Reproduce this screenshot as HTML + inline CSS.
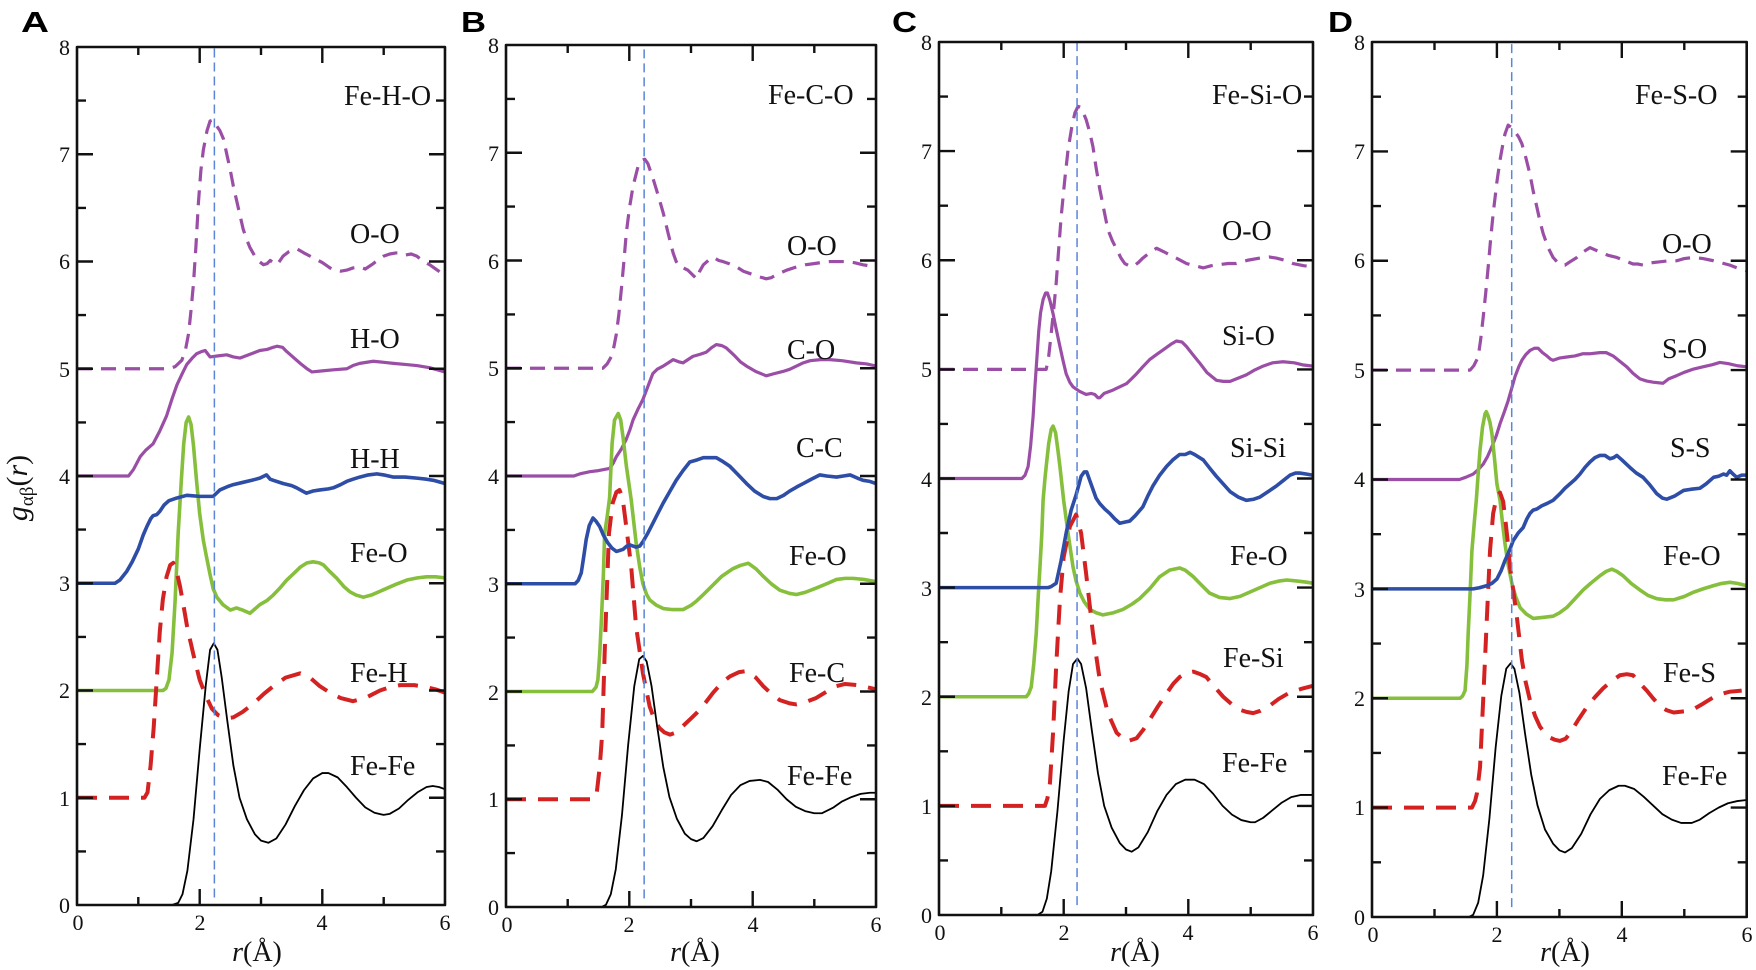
<!DOCTYPE html>
<html><head><meta charset="utf-8"><style>
body{margin:0;background:#fff}
svg{display:block}
.c{fill:none;vector-effect:non-scaling-stroke;stroke-linejoin:round;stroke-linecap:butt}
.k{stroke:#000;stroke-width:1.8}
.r{stroke:#d42222;stroke-width:4;stroke-dasharray:20 12}
.g{stroke:#86bf3c;stroke-width:3.6}
.b{stroke:#2d4da6;stroke-width:3.6}
.p{stroke:#9b4ea6;stroke-width:3.2}
.pd{stroke:#9b4ea6;stroke-width:3.2;stroke-dasharray:15 9}
.v{stroke:#5a85d8;stroke-width:1.5;stroke-dasharray:9 5}
.ax{stroke:#111;stroke-width:2.6}
.tk{fill:none;stroke:#111;stroke-width:2.4}
text{font-family:"Liberation Serif",serif;fill:#111}
.tl{font-size:22px}
.lb{font-size:28px}
.pl{font-family:"Liberation Sans",sans-serif;font-weight:bold;font-size:29px;fill:#000}
</style></head><body>
<svg width="1756" height="970" viewBox="0 0 1756 970" xmlns="http://www.w3.org/2000/svg">

<!-- ================= PANEL A ================= -->
<g transform="translate(77,905) scale(61.33,-107.25)">
<polyline class="c pd" points="0,5 1.5,5 1.6,5.02 1.71,5.08 1.77,5.18 1.82,5.33 1.86,5.55 1.9,5.8 1.94,6.15 1.98,6.55 2.02,6.85 2.06,7.04 2.12,7.22 2.17,7.31 2.22,7.32 2.27,7.27 2.33,7.22 2.39,7.14 2.45,6.98 2.5,6.85 2.55,6.7 2.63,6.5 2.71,6.3 2.77,6.2 2.82,6.13 2.9,6.05 2.97,6 3.04,5.97 3.1,5.98 3.15,6.01 3.2,5.99 3.26,5.97 3.3,6 3.36,6.05 3.45,6.09 3.58,6.12 3.7,6.08 3.8,6.05 3.9,6.02 4,5.99 4.1,5.95 4.18,5.92 4.3,5.91 4.4,5.92 4.5,5.94 4.61,5.95 4.7,5.93 4.83,5.98 4.92,6.02 5,6.05 5.1,6.07 5.2,6.08 5.27,6.08 5.35,6.06 5.45,6.07 5.54,6.05 5.65,6 5.75,5.97 5.85,5.93 6,5.87"/>
<polyline class="c p" points="0,4 0.84,4 0.92,4.06 1.03,4.18 1.12,4.24 1.24,4.3 1.35,4.42 1.46,4.56 1.55,4.72 1.63,4.85 1.72,4.96 1.79,5.04 1.88,5.1 1.95,5.14 2.03,5.16 2.09,5.17 2.13,5.14 2.17,5.11 2.3,5.12 2.44,5.13 2.55,5.11 2.66,5.1 2.8,5.13 2.98,5.17 3.1,5.18 3.2,5.2 3.26,5.21 3.35,5.2 3.42,5.16 3.52,5.11 3.64,5.05 3.75,5 3.83,4.97 4,4.98 4.18,4.99 4.4,5 4.5,5.03 4.61,5.05 4.83,5.07 5,5.06 5.16,5.05 5.35,5.04 5.54,5.03 5.75,5.01 6,4.97"/>
<polyline class="c g" points="0,2 1.4,2 1.45,2.02 1.5,2.1 1.55,2.35 1.6,2.84 1.65,3.47 1.7,3.95 1.74,4.3 1.78,4.5 1.82,4.55 1.86,4.48 1.9,4.28 1.95,3.95 2,3.65 2.06,3.4 2.11,3.25 2.17,3.08 2.22,2.95 2.28,2.87 2.38,2.8 2.5,2.75 2.6,2.77 2.7,2.75 2.82,2.72 2.9,2.76 2.98,2.8 3.1,2.84 3.2,2.89 3.3,2.95 3.42,3.03 3.55,3.1 3.64,3.15 3.75,3.19 3.85,3.2 3.95,3.19 4.02,3.17 4.12,3.11 4.23,3.05 4.35,2.97 4.45,2.92 4.55,2.89 4.67,2.87 4.8,2.89 5,2.94 5.2,2.99 5.38,3.03 5.55,3.05 5.7,3.06 5.85,3.06 6,3.05"/>
<polyline class="c r" points="0,1 1.1,1 1.15,1.05 1.2,1.3 1.25,1.65 1.3,2.1 1.35,2.55 1.4,2.85 1.46,3.06 1.52,3.17 1.57,3.19 1.62,3.12 1.68,2.97 1.74,2.78 1.8,2.58 1.9,2.33 2,2.1 2.1,1.95 2.2,1.83 2.3,1.77 2.44,1.74 2.55,1.75 2.7,1.8 2.88,1.88 3.05,1.97 3.2,2.04 3.4,2.12 3.64,2.16 3.8,2.12 3.96,2.04 4.15,1.97 4.3,1.93 4.5,1.9 4.7,1.93 4.94,2 5.1,2.03 5.27,2.05 5.5,2.05 5.7,2.03 5.85,2.01 6,1.98"/>
<polyline class="c b" points="0,3 0.62,3 0.7,3.03 0.81,3.11 0.9,3.2 1,3.32 1.08,3.45 1.14,3.53 1.2,3.6 1.24,3.63 1.3,3.64 1.35,3.67 1.42,3.73 1.5,3.77 1.6,3.79 1.79,3.82 2,3.81 2.22,3.81 2.33,3.87 2.45,3.9 2.55,3.92 2.7,3.94 2.85,3.96 2.98,3.98 3.09,4.01 3.15,3.97 3.2,3.96 3.36,3.93 3.5,3.91 3.58,3.89 3.74,3.84 3.85,3.86 3.96,3.87 4.1,3.88 4.18,3.89 4.3,3.92 4.4,3.95 4.5,3.97 4.61,3.99 4.75,4.01 4.89,4.02 5,4.01 5.16,3.99 5.35,3.99 5.54,3.98 5.7,3.97 5.81,3.96 6,3.93"/>
<polyline class="c k" points="1.55,0 1.65,0.02 1.72,0.1 1.8,0.32 1.9,0.8 2,1.45 2.1,2.05 2.17,2.38 2.23,2.44 2.29,2.38 2.36,2.12 2.45,1.72 2.55,1.3 2.65,1 2.77,0.8 2.9,0.66 3,0.6 3.12,0.58 3.25,0.62 3.4,0.75 3.55,0.92 3.7,1.07 3.85,1.18 4,1.23 4.1,1.23 4.25,1.19 4.4,1.1 4.55,1 4.7,0.91 4.85,0.86 5,0.84 5.1,0.85 5.25,0.9 5.4,0.98 5.55,1.05 5.7,1.1 5.8,1.11 5.9,1.1 6,1.08"/>
<line class="c v" x1="2.24" y1="0.07" x2="2.24" y2="8"/>
<rect class="c ax" x="0" y="0" width="6" height="8"/>
</g>
<path class="tk" transform="translate(77,905)" d="M61.3 0v-8M122.7 0v-16M184 0v-8M245.3 0v-16M306.7 0v-8M61.3 -858v8M122.7 -858v16M184 -858v8M245.3 -858v16M306.7 -858v8M0 -53.6h9M0 -160.9h9M0 -268.1h9M0 -375.4h9M0 -482.6h9M0 -589.9h9M0 -697.1h9M0 -804.4h9M0 -107.25h16M0 -214.5h16M0 -321.75h16M0 -429h16M0 -536.25h16M0 -643.5h16M0 -750.75h16M368 -53.6h-9M368 -160.9h-9M368 -268.1h-9M368 -375.4h-9M368 -482.6h-9M368 -589.9h-9M368 -697.1h-9M368 -804.4h-9M368 -107.25h-16M368 -214.5h-16M368 -321.75h-16M368 -429h-16M368 -536.25h-16M368 -643.5h-16M368 -750.75h-16"/>
<g class="tl" text-anchor="end">
<text x="70" y="913">0</text><text x="70" y="806">1</text><text x="70" y="698">2</text><text x="70" y="591">3</text><text x="70" y="484">4</text><text x="70" y="377">5</text><text x="70" y="269">6</text><text x="70" y="162">7</text><text x="70" y="55">8</text>
</g>
<g class="tl" text-anchor="middle">
<text x="78" y="930">0</text><text x="200" y="930">2</text><text x="322" y="930">4</text><text x="445" y="930">6</text>
</g>
<g class="lb">
<text x="344" y="105">Fe-H-O</text><text x="350" y="243">O-O</text><text x="350" y="348">H-O</text><text x="350" y="468">H-H</text><text x="350" y="562">Fe-O</text><text x="350" y="682">Fe-H</text><text x="350" y="775">Fe-Fe</text>
</g>
<text class="lb" x="257" y="961" text-anchor="middle"><tspan font-style="italic">r</tspan>(Å)</text>
<text class="pl" x="21" y="32" textLength="28" lengthAdjust="spacingAndGlyphs">A</text>
<text transform="translate(27,488) rotate(-90)" text-anchor="middle" font-size="30"><tspan font-style="italic">g</tspan><tspan font-size="19" dy="6">αβ</tspan><tspan dy="-6">(</tspan><tspan font-style="italic">r</tspan>)</text>

<!-- ================= PANEL B ================= -->
<g transform="translate(506,907) scale(61.67,-107.75)">
<polyline class="c pd" points="0,5 1.57,5 1.64,5.04 1.71,5.11 1.75,5.2 1.79,5.32 1.83,5.5 1.87,5.73 1.91,5.98 1.95,6.25 2,6.48 2.06,6.69 2.14,6.87 2.2,6.93 2.25,6.94 2.3,6.9 2.39,6.75 2.47,6.6 2.55,6.44 2.63,6.25 2.71,6.07 2.76,5.99 2.82,5.94 2.88,5.93 2.95,5.91 3.02,5.87 3.09,5.83 3.14,5.9 3.2,5.96 3.28,6 3.36,6.03 3.45,6 3.52,5.99 3.62,5.97 3.74,5.94 3.85,5.9 3.95,5.88 4.1,5.85 4.22,5.83 4.3,5.84 4.39,5.87 4.55,5.91 4.71,5.94 4.85,5.96 4.98,5.97 5.1,5.98 5.25,5.99 5.4,5.99 5.52,5.99 5.65,5.98 5.79,5.96 5.9,5.95 6,5.94"/>
<polyline class="c p" points="0,4 1.1,4 1.2,4.02 1.36,4.04 1.5,4.05 1.68,4.07 1.74,4.12 1.79,4.18 1.87,4.25 1.95,4.34 2.01,4.43 2.06,4.52 2.14,4.62 2.22,4.71 2.3,4.83 2.38,4.95 2.45,4.99 2.55,5.02 2.63,5.05 2.71,5.08 2.8,5.06 2.87,5.05 2.95,5.08 3.03,5.11 3.15,5.13 3.25,5.15 3.33,5.19 3.41,5.22 3.5,5.21 3.57,5.19 3.7,5.12 3.8,5.06 3.9,5.02 4.05,4.97 4.22,4.93 4.35,4.95 4.49,4.97 4.6,4.99 4.71,5.02 4.82,5.05 4.93,5.07 5.1,5.08 5.25,5.08 5.45,5.07 5.68,5.05 5.85,5.04 6,5.02"/>
<polyline class="c g" points="0,2 1.4,2 1.46,2.04 1.49,2.11 1.52,2.35 1.55,2.7 1.58,3.1 1.6,3.47 1.64,3.62 1.68,3.8 1.72,4.3 1.76,4.52 1.82,4.58 1.86,4.52 1.9,4.35 1.95,4.1 2,3.9 2.03,3.78 2.07,3.58 2.11,3.38 2.17,3.15 2.22,3 2.28,2.9 2.33,2.85 2.44,2.8 2.55,2.77 2.7,2.76 2.87,2.76 3,2.8 3.09,2.84 3.2,2.9 3.36,2.99 3.5,3.07 3.68,3.14 3.8,3.17 3.93,3.19 4.05,3.14 4.17,3.07 4.3,3 4.44,2.94 4.6,2.91 4.71,2.9 4.85,2.92 5.03,2.96 5.2,3 5.36,3.04 5.5,3.05 5.63,3.05 5.8,3.04 6,3.02"/>
<polyline class="c r" points="0,1 1.42,1 1.47,1.05 1.52,1.3 1.56,1.61 1.61,2.54 1.67,3.47 1.73,3.75 1.79,3.85 1.84,3.87 1.89,3.8 1.95,3.53 2.03,3.16 2.11,2.6 2.22,2.17 2.33,1.86 2.42,1.72 2.49,1.66 2.57,1.62 2.66,1.6 2.76,1.62 2.87,1.68 3,1.75 3.09,1.8 3.2,1.87 3.36,1.99 3.5,2.08 3.63,2.14 3.78,2.18 3.9,2.19 4.05,2.13 4.17,2.05 4.3,1.98 4.44,1.92 4.6,1.89 4.71,1.88 4.85,1.9 5.03,1.94 5.2,2 5.36,2.05 5.5,2.07 5.68,2.06 5.85,2.04 6,2.02"/>
<polyline class="c b" points="0,3 1.12,3 1.17,3.03 1.22,3.1 1.26,3.25 1.3,3.41 1.35,3.54 1.41,3.61 1.46,3.58 1.52,3.53 1.58,3.45 1.65,3.38 1.72,3.33 1.79,3.3 1.85,3.31 1.9,3.32 1.96,3.35 2.01,3.36 2.06,3.35 2.11,3.34 2.17,3.35 2.22,3.39 2.3,3.47 2.38,3.56 2.46,3.65 2.55,3.75 2.65,3.85 2.76,3.96 2.87,4.05 2.98,4.13 3.1,4.15 3.2,4.17 3.3,4.17 3.41,4.17 3.5,4.14 3.63,4.09 3.75,4.02 3.9,3.93 4.03,3.86 4.17,3.81 4.28,3.79 4.39,3.79 4.5,3.82 4.6,3.86 4.72,3.9 4.82,3.93 4.95,3.97 5.09,4.01 5.2,4 5.36,3.99 5.47,4 5.58,4.01 5.7,3.98 5.79,3.96 5.9,3.95 6,3.93"/>
<polyline class="c k" points="1.55,0 1.62,0.02 1.7,0.12 1.78,0.35 1.88,0.85 1.98,1.5 2.08,2.05 2.16,2.3 2.22,2.33 2.28,2.28 2.36,2.05 2.45,1.68 2.55,1.3 2.65,1.02 2.77,0.82 2.9,0.68 3,0.63 3.09,0.61 3.2,0.64 3.35,0.75 3.5,0.9 3.65,1.04 3.8,1.13 3.95,1.17 4.12,1.18 4.25,1.16 4.4,1.09 4.55,1 4.7,0.93 4.85,0.89 5,0.87 5.12,0.87 5.3,0.92 5.45,0.98 5.6,1.02 5.75,1.05 5.9,1.06 6,1.06"/>
<line class="c v" x1="2.24" y1="0.08" x2="2.24" y2="8"/>
<rect class="c ax" x="0" y="0" width="6" height="8"/>
</g>
<path class="tk" transform="translate(506,907)" d="M61.7 0v-8M123.3 0v-16M185 0v-8M246.7 0v-16M308.3 0v-8M61.7 -862v8M123.3 -862v16M185 -862v8M246.7 -862v16M308.3 -862v8M0 -53.9h9M0 -161.6h9M0 -269.4h9M0 -377.1h9M0 -484.9h9M0 -592.6h9M0 -700.4h9M0 -808.1h9M0 -107.75h16M0 -215.5h16M0 -323.25h16M0 -431h16M0 -538.75h16M0 -646.5h16M0 -754.25h16M370 -53.9h-9M370 -161.6h-9M370 -269.4h-9M370 -377.1h-9M370 -484.9h-9M370 -592.6h-9M370 -700.4h-9M370 -808.1h-9M370 -107.75h-16M370 -215.5h-16M370 -323.25h-16M370 -431h-16M370 -538.75h-16M370 -646.5h-16M370 -754.25h-16"/>
<g class="tl" text-anchor="end">
<text x="499" y="915">0</text><text x="499" y="807">1</text><text x="499" y="700">2</text><text x="499" y="592">3</text><text x="499" y="484">4</text><text x="499" y="376">5</text><text x="499" y="269">6</text><text x="499" y="161">7</text><text x="499" y="53">8</text>
</g>
<g class="tl" text-anchor="middle">
<text x="507" y="932">0</text><text x="629" y="932">2</text><text x="753" y="932">4</text><text x="876" y="932">6</text>
</g>
<g class="lb">
<text x="768" y="104">Fe-C-O</text><text x="787" y="255">O-O</text><text x="787" y="359">C-O</text><text x="796" y="457">C-C</text><text x="789" y="565">Fe-O</text><text x="789" y="682">Fe-C</text><text x="787" y="785">Fe-Fe</text>
</g>
<text class="lb" x="695" y="961" text-anchor="middle"><tspan font-style="italic">r</tspan>(Å)</text>
<text class="pl" x="461" y="32" textLength="25" lengthAdjust="spacingAndGlyphs">B</text>

<!-- ================= PANEL C ================= -->
<g transform="translate(939,915) scale(62.33,-109.125)">
<polyline class="c pd" points="0,5 1.72,5 1.76,5.12 1.8,5.33 1.84,5.55 1.88,5.79 1.92,6.1 1.96,6.4 2.02,6.75 2.07,7.01 2.13,7.22 2.18,7.35 2.23,7.41 2.28,7.4 2.36,7.29 2.42,7.17 2.47,7.04 2.52,6.85 2.58,6.65 2.65,6.45 2.71,6.28 2.78,6.18 2.85,6.1 2.92,6.02 2.98,5.97 3.05,5.95 3.11,5.94 3.2,5.98 3.27,6.02 3.38,6.07 3.49,6.11 3.6,6.08 3.7,6.05 3.84,6.01 3.97,5.97 4.1,5.95 4.24,5.93 4.37,5.95 4.5,5.96 4.64,5.97 4.77,5.97 4.95,6 5.15,6.02 5.3,6.03 5.41,6.02 5.55,6 5.68,5.97 5.85,5.95 6,5.94"/>
<polyline class="c p" points="0,4 1.33,4 1.38,4.03 1.43,4.11 1.47,4.3 1.51,4.57 1.54,4.85 1.57,5.1 1.6,5.35 1.63,5.52 1.67,5.64 1.71,5.7 1.74,5.7 1.78,5.63 1.83,5.51 1.88,5.37 1.94,5.21 1.99,5.08 2.04,4.96 2.1,4.88 2.15,4.84 2.25,4.8 2.36,4.77 2.44,4.78 2.5,4.77 2.55,4.74 2.58,4.74 2.65,4.78 2.79,4.81 2.9,4.84 3.01,4.87 3.1,4.92 3.17,4.96 3.28,5.03 3.38,5.09 3.5,5.14 3.6,5.18 3.72,5.23 3.81,5.26 3.9,5.25 3.97,5.21 4.08,5.13 4.18,5.06 4.3,4.97 4.45,4.9 4.56,4.89 4.67,4.89 4.8,4.92 4.93,4.95 5.05,4.99 5.2,5.03 5.35,5.06 5.52,5.07 5.7,5.06 5.85,5.04 6,5.03"/>
<polyline class="c g" points="0,2 1.4,2 1.44,2.03 1.48,2.09 1.52,2.3 1.56,2.58 1.59,2.9 1.62,3.19 1.65,3.5 1.67,3.8 1.7,4 1.72,4.11 1.76,4.32 1.8,4.45 1.83,4.48 1.87,4.42 1.91,4.25 1.94,4.11 2,3.8 2.07,3.5 2.15,3.19 2.2,3.06 2.26,2.95 2.33,2.87 2.42,2.8 2.52,2.77 2.63,2.75 2.8,2.77 2.95,2.8 3.1,2.85 3.22,2.9 3.38,2.99 3.54,3.1 3.7,3.16 3.86,3.18 3.95,3.16 4.08,3.1 4.2,3.03 4.34,2.95 4.5,2.91 4.67,2.9 4.83,2.92 4.99,2.96 5.15,3 5.31,3.04 5.45,3.06 5.58,3.07 5.75,3.06 5.9,3.05 6,3.04"/>
<polyline class="c r" points="0,1 1.7,1 1.74,1.07 1.78,1.21 1.83,1.67 1.88,2.28 1.94,2.89 2,3.28 2.1,3.56 2.2,3.67 2.28,3.5 2.36,3.13 2.47,2.58 2.58,2.15 2.71,1.85 2.85,1.67 3.01,1.59 3.17,1.62 3.28,1.7 3.38,1.79 3.5,1.9 3.65,2.03 3.76,2.12 3.86,2.18 3.97,2.22 4.08,2.23 4.18,2.21 4.29,2.18 4.42,2.09 4.56,2 4.7,1.93 4.83,1.88 4.94,1.86 5.04,1.85 5.15,1.87 5.31,1.92 5.45,1.98 5.63,2.04 5.8,2.07 6,2.1"/>
<polyline class="c b" points="0,3 1.75,3 1.8,3.01 1.88,3.04 1.96,3.25 2.04,3.5 2.12,3.71 2.2,3.85 2.28,4.02 2.33,4.06 2.37,4.06 2.42,3.98 2.47,3.9 2.52,3.82 2.58,3.77 2.66,3.72 2.74,3.68 2.82,3.63 2.9,3.59 2.98,3.6 3.06,3.61 3.15,3.66 3.27,3.74 3.35,3.84 3.43,3.93 3.54,4.03 3.65,4.11 3.75,4.17 3.86,4.22 3.95,4.22 4.03,4.24 4.1,4.22 4.24,4.17 4.35,4.09 4.45,4.02 4.56,3.95 4.67,3.88 4.8,3.83 4.93,3.8 5.05,3.81 5.15,3.83 5.28,3.88 5.41,3.93 5.52,3.98 5.63,4.03 5.72,4.05 5.79,4.05 5.9,4.04 6,4.03"/>
<polyline class="c k" points="1.58,0 1.66,0.03 1.73,0.15 1.8,0.4 1.9,0.95 2,1.6 2.08,2.05 2.15,2.3 2.22,2.35 2.28,2.3 2.36,2.08 2.45,1.7 2.55,1.3 2.65,1 2.77,0.8 2.9,0.66 3,0.6 3.09,0.58 3.2,0.62 3.35,0.76 3.5,0.95 3.65,1.1 3.8,1.2 3.95,1.24 4.1,1.24 4.25,1.2 4.4,1.11 4.55,1 4.7,0.92 4.85,0.87 5,0.85 5.07,0.85 5.2,0.89 5.35,0.96 5.5,1.03 5.65,1.08 5.8,1.1 5.95,1.1 6,1.1"/>
<line class="c v" x1="2.215" y1="0.09" x2="2.215" y2="8"/>
<rect class="c ax" x="0" y="0" width="6" height="8"/>
</g>
<path class="tk" transform="translate(939,915)" d="M62.3 0v-8M124.7 0v-16M187 0v-8M249.3 0v-16M311.7 0v-8M62.3 -873v8M124.7 -873v16M187 -873v8M249.3 -873v16M311.7 -873v8M0 -54.6h9M0 -163.7h9M0 -272.8h9M0 -382h9M0 -491.1h9M0 -600.2h9M0 -709.3h9M0 -818.4h9M0 -109.1h16M0 -218.25h16M0 -327.4h16M0 -436.5h16M0 -545.6h16M0 -654.75h16M0 -763.9h16M374 -54.6h-9M374 -163.7h-9M374 -272.8h-9M374 -382h-9M374 -491.1h-9M374 -600.2h-9M374 -709.3h-9M374 -818.4h-9M374 -109.1h-16M374 -218.25h-16M374 -327.4h-16M374 -436.5h-16M374 -545.6h-16M374 -654.75h-16M374 -763.9h-16"/>
<g class="tl" text-anchor="end">
<text x="932" y="923">0</text><text x="932" y="814">1</text><text x="932" y="705">2</text><text x="932" y="596">3</text><text x="932" y="487">4</text><text x="932" y="377">5</text><text x="932" y="268">6</text><text x="932" y="159">7</text><text x="932" y="50">8</text>
</g>
<g class="tl" text-anchor="middle">
<text x="940" y="940">0</text><text x="1064" y="940">2</text><text x="1188" y="940">4</text><text x="1313" y="940">6</text>
</g>
<g class="lb">
<text x="1212" y="104">Fe-Si-O</text><text x="1222" y="240">O-O</text><text x="1222" y="345">Si-O</text><text x="1230" y="457">Si-Si</text><text x="1230" y="565">Fe-O</text><text x="1223" y="667">Fe-Si</text><text x="1222" y="772">Fe-Fe</text>
</g>
<text class="lb" x="1135" y="961" text-anchor="middle"><tspan font-style="italic">r</tspan>(Å)</text>
<text class="pl" x="892" y="32" textLength="25" lengthAdjust="spacingAndGlyphs">C</text>

<!-- ================= PANEL D ================= -->
<g transform="translate(1372,917) scale(62.45,-109.375)">
<polyline class="c pd" points="0,5 1.57,5 1.63,5.04 1.7,5.12 1.74,5.28 1.78,5.48 1.82,5.7 1.86,5.94 1.9,6.2 1.94,6.43 2,6.72 2.05,6.92 2.1,7.08 2.13,7.16 2.18,7.24 2.23,7.22 2.29,7.18 2.35,7.13 2.4,7.07 2.46,6.95 2.53,6.79 2.58,6.64 2.64,6.49 2.69,6.36 2.74,6.25 2.82,6.12 2.9,6.03 2.98,5.98 3.05,5.96 3.09,5.96 3.17,5.99 3.28,6.03 3.38,6.08 3.49,6.12 3.57,6.1 3.65,6.08 3.78,6.05 3.92,6.03 4.05,6 4.18,5.97 4.26,5.97 4.34,5.96 4.45,5.98 4.61,5.99 4.75,6 4.88,6 5,6.02 5.15,6.03 5.3,6.02 5.47,6 5.6,5.98 5.73,5.96 5.87,5.93 6,5.91"/>
<polyline class="c p" points="0,4 1.4,4 1.5,4.02 1.62,4.05 1.7,4.09 1.78,4.14 1.85,4.21 1.92,4.3 1.99,4.4 2.05,4.51 2.12,4.62 2.18,4.72 2.24,4.84 2.29,4.94 2.35,5.03 2.4,5.09 2.46,5.14 2.53,5.18 2.6,5.2 2.66,5.2 2.73,5.16 2.8,5.13 2.86,5.1 2.9,5.09 3,5.11 3.12,5.12 3.25,5.13 3.38,5.15 3.5,5.15 3.65,5.16 3.75,5.16 3.86,5.13 3.97,5.08 4.08,5.03 4.18,4.97 4.29,4.92 4.4,4.9 4.5,4.89 4.66,4.88 4.75,4.92 4.88,4.95 5,4.98 5.15,5.01 5.3,5.03 5.45,5.05 5.57,5.07 5.7,5.06 5.85,5.04 6,5.03"/>
<polyline class="c g" points="0,2 1.41,2 1.45,2.02 1.49,2.07 1.52,2.3 1.54,2.59 1.57,2.95 1.6,3.35 1.64,3.62 1.67,3.81 1.7,4.05 1.73,4.27 1.77,4.48 1.81,4.6 1.83,4.62 1.86,4.58 1.89,4.52 1.92,4.42 1.96,4.2 2,3.96 2.05,3.81 2.09,3.6 2.13,3.41 2.18,3.22 2.24,3.05 2.3,2.93 2.37,2.83 2.47,2.77 2.58,2.73 2.75,2.74 2.9,2.75 3,2.78 3.12,2.83 3.25,2.91 3.38,2.99 3.5,3.05 3.65,3.12 3.75,3.16 3.84,3.18 3.92,3.16 4.02,3.12 4.15,3.05 4.29,2.99 4.42,2.94 4.56,2.91 4.7,2.9 4.83,2.9 5,2.93 5.15,2.97 5.3,3 5.47,3.03 5.6,3.05 5.73,3.06 5.85,3.05 6,3.03"/>
<polyline class="c r" points="0,1 1.6,1 1.65,1.06 1.68,1.13 1.73,1.37 1.78,1.98 1.84,2.74 1.89,3.35 1.94,3.69 2,3.85 2.05,3.88 2.1,3.8 2.13,3.66 2.17,3.45 2.21,3.2 2.27,2.95 2.32,2.74 2.4,2.35 2.46,2.15 2.53,1.98 2.61,1.84 2.69,1.74 2.77,1.68 2.85,1.64 2.93,1.62 3.01,1.61 3.1,1.63 3.17,1.68 3.3,1.8 3.44,1.92 3.57,2.01 3.7,2.09 3.84,2.16 3.97,2.21 4.08,2.22 4.18,2.21 4.3,2.13 4.4,2.07 4.5,2 4.61,1.93 4.72,1.89 4.83,1.87 5,1.88 5.15,1.9 5.3,1.95 5.47,2.01 5.6,2.04 5.73,2.06 5.92,2.07"/>
<polyline class="c b" points="0,3 1.62,3 1.72,3.01 1.84,3.03 1.92,3.05 2,3.09 2.07,3.17 2.13,3.26 2.2,3.35 2.26,3.44 2.34,3.51 2.42,3.56 2.48,3.64 2.53,3.69 2.58,3.72 2.64,3.73 2.72,3.76 2.8,3.78 2.9,3.81 3.01,3.87 3.09,3.92 3.17,3.96 3.25,4 3.33,4.05 3.41,4.11 3.49,4.16 3.57,4.2 3.65,4.22 3.73,4.22 3.81,4.19 3.87,4.2 3.92,4.22 4,4.18 4.13,4.11 4.23,4.06 4.34,4.02 4.45,3.95 4.56,3.87 4.65,3.83 4.72,3.82 4.85,3.85 4.99,3.9 5.1,3.91 5.25,3.92 5.35,3.96 5.47,4.02 5.55,4.03 5.63,4.05 5.68,4.04 5.73,4.08 5.78,4.05 5.84,4.02 5.92,4.04 6,4.04"/>
<polyline class="c k" points="1.55,0 1.62,0.02 1.7,0.13 1.78,0.38 1.88,0.9 1.98,1.55 2.07,2.02 2.15,2.27 2.22,2.32 2.28,2.27 2.36,2.05 2.45,1.68 2.55,1.3 2.65,1.02 2.77,0.8 2.9,0.67 3,0.61 3.09,0.59 3.2,0.63 3.35,0.76 3.5,0.94 3.65,1.08 3.8,1.16 3.95,1.2 4.05,1.2 4.2,1.17 4.35,1.1 4.5,1.02 4.65,0.94 4.8,0.89 4.95,0.86 5.12,0.86 5.25,0.89 5.4,0.95 5.55,1 5.7,1.04 5.85,1.06 6,1.07"/>
<line class="c v" x1="2.237" y1="0.09" x2="2.237" y2="8"/>
<rect class="c ax" x="0" y="0" width="6" height="8"/>
</g>
<path class="tk" transform="translate(1372,917)" d="M62.5 0v-8M124.9 0v-16M187.4 0v-8M249.8 0v-16M312.3 0v-8M62.5 -875v8M124.9 -875v16M187.4 -875v8M249.8 -875v16M312.3 -875v8M0 -54.7h9M0 -164.1h9M0 -273.4h9M0 -382.8h9M0 -492.2h9M0 -601.6h9M0 -710.9h9M0 -820.3h9M0 -109.4h16M0 -218.75h16M0 -328.1h16M0 -437.5h16M0 -546.9h16M0 -656.25h16M0 -765.6h16M374.7 -54.7h-9M374.7 -164.1h-9M374.7 -273.4h-9M374.7 -382.8h-9M374.7 -492.2h-9M374.7 -601.6h-9M374.7 -710.9h-9M374.7 -820.3h-9M374.7 -109.4h-16M374.7 -218.75h-16M374.7 -328.1h-16M374.7 -437.5h-16M374.7 -546.9h-16M374.7 -656.25h-16M374.7 -765.6h-16"/>
<g class="tl" text-anchor="end">
<text x="1365" y="925">0</text><text x="1365" y="815">1</text><text x="1365" y="706">2</text><text x="1365" y="597">3</text><text x="1365" y="487">4</text><text x="1365" y="378">5</text><text x="1365" y="268">6</text><text x="1365" y="159">7</text><text x="1365" y="50">8</text>
</g>
<g class="tl" text-anchor="middle">
<text x="1373" y="942">0</text><text x="1497" y="942">2</text><text x="1622" y="942">4</text><text x="1747" y="942">6</text>
</g>
<g class="lb">
<text x="1635" y="104">Fe-S-O</text><text x="1662" y="253">O-O</text><text x="1662" y="358">S-O</text><text x="1670" y="457">S-S</text><text x="1663" y="565">Fe-O</text><text x="1663" y="682">Fe-S</text><text x="1662" y="785">Fe-Fe</text>
</g>
<text class="lb" x="1565" y="961" text-anchor="middle"><tspan font-style="italic">r</tspan>(Å)</text>
<text class="pl" x="1328" y="32" textLength="25" lengthAdjust="spacingAndGlyphs">D</text>
</svg>
</body></html>
